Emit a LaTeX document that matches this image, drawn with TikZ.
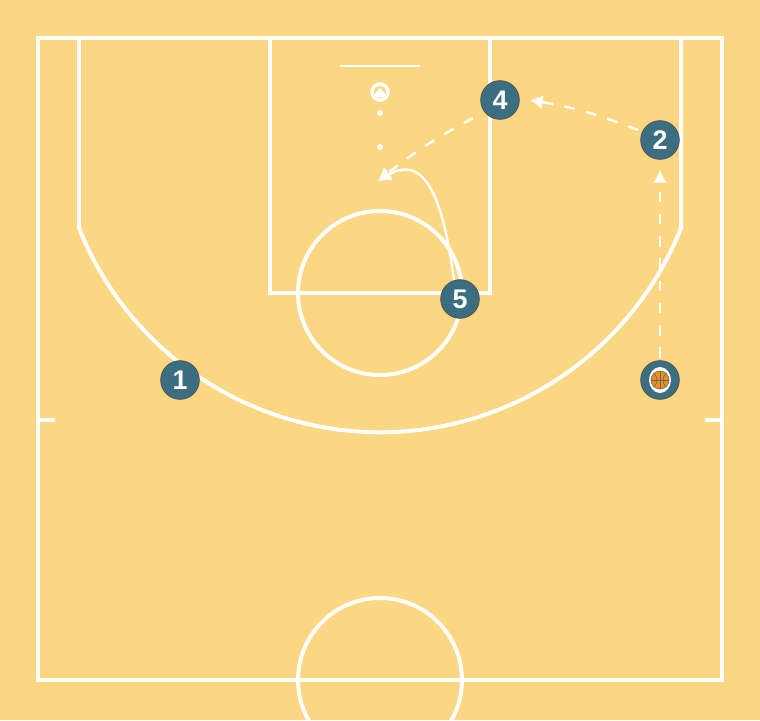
\documentclass[tikz,border=0pt]{standalone}
\usepackage{fontspec}
\setsansfont{Liberation Sans}
\usetikzlibrary{arrows.meta}
\definecolor{court}{HTML}{FBD784}
\definecolor{player}{HTML}{3B6E80}
\definecolor{ball}{HTML}{E8901A}
\begin{document}
\begin{tikzpicture}[x=0.03cm,y=-0.03cm,
	line/.style={white,line width=3.4pt},
	thinline/.style={white,line width=1.6pt},
	pl/.style={circle,fill=player,draw=black!70,line width=0.6pt,minimum size=1.16cm,inner sep=0pt,text=white,font=\fontsize{23}{23}\sffamily\bfseries},
	pass/.style={white,line width=2pt,dash pattern=on 9pt off 10pt,-{Latex[length=11pt,width=12pt]}},
	cut/.style={white,line width=2pt,-{Latex[length=11pt,width=12pt]}}]
	\fill[court] (0,0) rectangle (760,720);
	\useasboundingbox (0,0) rectangle (760,720);
	% court lines
	\begin{scope}
		\clip (0,0) rectangle (760,720);
		\draw[line] (38,38) rectangle (722,680);
		\draw[line] (380,680) circle (82);
	\end{scope}
	\draw[line] (270,38) -- (270,293) -- (490,293) -- (490,38);
	\draw[line] (380,293) circle (82);
	\draw[line] (79,38) -- (79,228) arc[start angle=180-21.7,end angle=21.7,radius=324] -- (681,38);
	\draw[line] (38,420) -- (55,420);
	\draw[line] (722,420) -- (705,420);
	\draw[thinline] (340,66) -- (420,66);
	\draw[white,line width=3pt] (380,92) circle (8);
	\fill[white] (372,97) -- (380,88) -- (388,97) -- cycle;
	\fill[white] (380,113) circle (3);
	\fill[white] (380,147) circle (3);
	% players
	\node[pl] (p1) at (180,380) {1};
	\node[pl] (p2) at (660,140) {2};
	\node[pl] (p4) at (500,100) {4};
	\node[pl] (p5) at (460,299) {5};
	\node[pl] (pb) at (660,380) {};
	\fill[white] (pb) ellipse (11 and 13);
	\fill[ball,draw=black!60,line width=0.5pt] (pb) circle (9);
	\draw[black!60,line width=0.5pt] (651,380) -- (669,380) (660,371) -- (660,389);
	\draw[black!60,line width=0.5pt] (654,373) .. controls (658,378) and (658,383) .. (654,387);
	\draw[black!60,line width=0.5pt] (666,373) .. controls (662,378) and (662,383) .. (666,387);
	\coordinate (shot) at (378,181);
	% movements
	\draw[pass] (pb) ++(0,-22) -- ([yshift=-0.3cm]p2.south);
	\draw[pass] (p2) ++(-22,-10) to[bend right=6] ([xshift=0.3cm]p4.east);
	\draw[pass] (p4) ++(-27,18) to[bend right=5] (shot);
	\draw[cut] (p5) ++(-6,-19) .. controls (445,215) and (430,150) .. (shot);
\end{tikzpicture}
\end{document}
